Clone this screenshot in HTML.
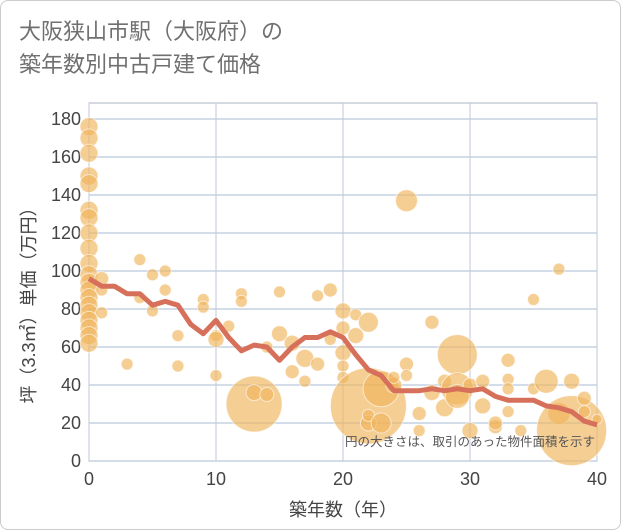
<!DOCTYPE html>
<html><head><meta charset="utf-8">
<style>
body{margin:0;background:#fff;}
#wrap{position:relative;width:619px;height:528px;border:1px solid #ccc;border-radius:8px;background:#fff;overflow:hidden;font-family:"Liberation Sans","Noto Sans CJK JP",sans-serif;}
#title{position:absolute;left:18px;top:14px;font-size:22px;line-height:33px;color:#707070;}
</style></head>
<body>
<div id="wrap">
<div id="title">大阪狭山市駅（大阪府）の<br>築年数別中古戸建て価格</div>
<svg id="chart" width="621" height="530" style="position:absolute;left:0;top:0"></svg>
</div>
<script>
const xTicks=[0,10,20,30,40];
const yTicks=[0,20,40,60,80,100,120,140,160,180];
const lineYears=[0,1,2,3,4,5,6,7,8,9,10,11,12,13,14,15,16,17,18,19,20,21,22,23,24,25,26,27,28,29,30,31,32,33,34,35,36,37,38,39,40];
const linePrices=[96,92,92,88,88,82,84,82,72,67,74,65,58,61,60,53,60,65,65,68,65,56,48,45,37,37,37,38,37,38,37,38,34,32,32,32,29,28,26,21,19];
const bubbleAge=[0,0,0,0,0,0,0,0,0,0,0,0,0,0,0,0,0,0,0,0,1,1,1,3,4,4,5,5,6,6,7,7,9,9,10,10,10,11,12,12,13,13,14,14,15,15,16,16,17,17,18,18,19,19,20,20,20,20,20,21,21,22,22,22,22,23,23,24,24,25,25,25,26,26,27,27,28,28,29,29,29,30,30,31,31,32,32,33,33,33,33,34,35,35,36,37,37,38,38,39,39,40];
const bubblePrice=[176,170,162,150,146,132,128,120,112,104,98,94,90,86,82,78,74,70,66,62,96,90,78,51,106,86,98,79,100,90,66,50,85,81,66,45,64,71,88,84,30,36,35,60,89,67,47,62,54,42,87,51,90,64,79,70,57,50,44,77,66,73,29,20,24,20,38,40,44,137,51,45,25,16,73,36,28,42,56,38,34,16,40,29,42,18,20,53,43,38,26,16,85,38,42,101,25,16,42,33,26,22];
const bubbleSize=[9,9,9,9,9,9,9,9,9,9,9,9,9,9,9,9,9,9,9,9,7,6,6,6,6,6,6,6,6,6,6,6,6,6,6,6,8,6,6,6,28,8,7,6,6,8,7,8,9,6,6,7,7,6,8,7,8,6,6,6,8,10,38,8,6,10,18,8,6,11,7,6,7,6,7,8,9,7,20,16,12,8,7,8,7,7,7,7,6,6,6,6,6,6,12,6,11,35,8,7,6,5,6];
const W=621,H=530,x0=88,x1=596,yB=460,yT=118;
const sx=v=>x0+(v-0)/40*(x1-x0);
const sy=v=>yB-v/180*(yB-yT);
const NS="http://www.w3.org/2000/svg";
const svg=document.getElementById('chart');
function mk(t,a){const e=document.createElementNS(NS,t);for(const k in a)e.setAttribute(k,a[k]);svg.appendChild(e);return e;}
const bg=mk('rect',{x:x0,y:yT-16,width:x1-x0,height:yB-yT+16,fill:'#fff',stroke:'#aab4c0'});


yTicks.forEach(t=>{const l=mk('line',{x1:x0,x2:x1,y1:sy(t),y2:sy(t),stroke:'#d3dde9','stroke-width':2});


const tx=mk('text',{x:x0-8,y:sy(t)+6,'text-anchor':'end','font-size':18,fill:'#444'});tx.textContent=t;

});
xTicks.forEach(t=>{const l=mk('line',{x1:sx(t),x2:sx(t),y1:yT-16,y2:yB,stroke:'#c0cad6','stroke-width':1});


const tx=mk('text',{x:sx(t),y:yB+24,'text-anchor':'middle','font-size':18,fill:'#444'});tx.textContent=t;

});
bubbleAge.forEach((a,i)=>{const c=mk('circle',{cx:sx(a),cy:sy(bubblePrice[i]),r:bubbleSize[i],fill:'rgba(239,180,90,0.65)',stroke:'rgba(255,255,255,0.6)','stroke-width':1});

});
const pl=mk('polyline',{points:lineYears.map((a,i)=>sx(a)+','+sy(linePrices[i])).join(' '),fill:'none',stroke:'#d6705a','stroke-width':5,'stroke-linejoin':'round'});


const note=mk('text',{x:594,y:445,'text-anchor':'end','font-size':12.5,fill:'#555'});note.textContent='円の大きさは、取引のあった物件面積を示す';


const xt=mk('text',{x:342,y:515,'text-anchor':'middle','font-size':18,fill:'#444'});xt.textContent='築年数（年）';


const yt=mk('text',{x:0,y:0,'text-anchor':'middle','font-size':18,fill:'#444',transform:'translate(34,300) rotate(-90)'});yt.textContent='坪（3.3㎡）単価（万円）';


</script>
</body></html>
